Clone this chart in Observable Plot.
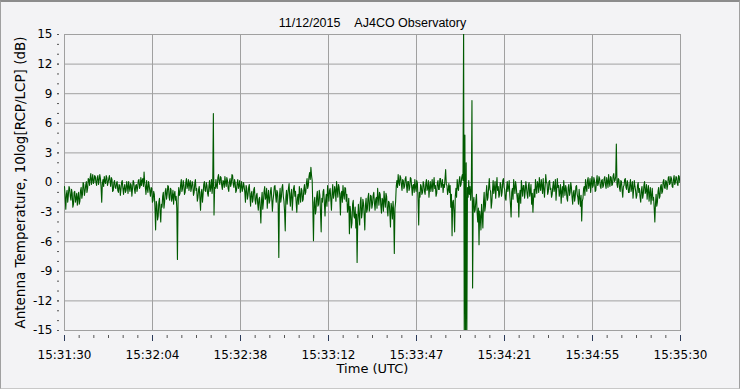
<!DOCTYPE html>
<html><head><meta charset="utf-8">
<script src="https://cdn.jsdelivr.net/npm/d3@7"></script>
<script src="https://cdn.jsdelivr.net/npm/@observablehq/plot@0.6"></script>
<style>
html,body{margin:0;padding:0;background:#f3f3f5;}
#wrap{position:relative;width:740px;height:389px;overflow:hidden;}
#wrap svg{position:absolute;left:0;top:0;}
#border{position:absolute;left:0;top:0;width:738px;height:386px;border-top:2px solid #8c8c8c;border-left:1px solid #a0a0a0;border-right:1px solid #a0a0a0;border-bottom:1px solid #c8c8c8;pointer-events:none;}
</style></head><body><div id="wrap"><div id="border"></div></div>
<script>
const titleText = "11/12/2015\u00a0\u00a0\u00a0\u00a0AJ4CO Observatory";
const yLabel = "Antenna Temperature, 10log[RCP/LCP] (dB)";
const xLabel = "Time (UTC)";
const tickLabels = ["15:31:30","15:32:04","15:32:38","15:33:12","15:33:47","15:34:21","15:34:55","15:35:30"];
const durationSeconds = 240;
const sampleStep = 0.25;
const yTicks = [-15,-12,-9,-6,-3,0,3,6,9,12,15];
const values = [
-0.4,-1.5,-2.7,-1.2,-0.8,-2.0,-1.3,-0.4,-0.6,-1.4,-1.8,-0.7,-1.1,-2.5,-2.2,-1.0,-0.9,-2.0,-1.6,-1.1,-2.3,-1.5,-1.0,-2.2,-1.9,-0.8,-0.5,-1.6,-1.2,0.0,-0.2,-1.3,-0.9,-0.3,0.1,-1.0,-0.6,0.4,0.3,-0.3,
0.5,0.9,-0.2,0.3,0.8,-0.1,0.1,0.7,0.6,0.0,-0.3,0.5,0.7,-0.2,0.2,0.8,0.4,-0.5,-2.0,-0.1,0.3,-0.4,0.6,0.1,-0.1,0.7,0.5,-0.3,0.0,0.4,0.7,0.1,-0.4,0.5,0.3,-0.9,-0.8,0.0,0.2,-0.5,
-0.6,-0.1,0.1,-0.8,-1.0,-0.2,-0.3,-1.3,-0.7,0.0,0.2,-0.6,-1.2,-0.5,-0.2,-1.0,-0.8,0.1,-0.4,-1.1,0.1,-0.5,-0.9,-0.1,-0.3,-1.4,-0.6,0.2,0.0,-0.7,-1.1,-0.3,-0.2,-0.9,-0.5,0.2,0.3,-0.6,-0.4,0.5,
-0.3,0.2,0.4,-0.4,1.05,0.0,-0.5,-1.2,0.2,-0.6,-1.0,0.1,-0.3,-0.9,-1.4,-0.5,-0.6,-2.0,-1.8,-0.9,-1.2,-2.6,-4.8,-1.9,-2.3,-3.8,-3.4,-2.0,-1.6,-3.0,-4.0,-2.2,-2.5,-1.4,-1.0,-2.6,-2.0,-0.9,-0.6,-1.7,
-1.2,-0.3,-0.4,-1.5,-1.8,-0.6,-0.7,-1.9,-1.5,-0.8,-2.2,-1.2,-0.9,-1.8,-1.4,-2.6,-7.8,-1.8,-0.5,-1.3,-1.1,-0.2,0.3,-0.9,-0.6,0.2,-0.2,-1.2,-1.0,0.0,0.4,-0.6,-0.3,0.3,-0.8,-0.1,0.2,-0.9,-0.5,0.1,
-0.2,-1.3,-1.0,-0.1,0.3,-0.8,-0.6,-1.9,-1.5,-0.7,-0.4,-1.6,-2.8,-1.0,-0.7,-2.0,-1.2,-0.2,0.1,-0.8,-0.9,0.0,-0.3,-1.1,-1.4,-0.4,0.2,-0.9,-0.5,0.3,-1.1,-0.3,7.0,-3.3,-0.5,-0.6,0.3,-0.4,-0.6,0.5,
0.8,0.1,-0.2,0.6,0.5,-0.3,-0.7,0.2,0.1,-0.5,0.6,0.0,-0.4,0.5,0.2,-0.6,-0.9,0.1,0.4,-0.4,-0.1,0.8,0.7,-0.2,-0.5,0.3,0.0,-1.0,-0.8,-0.1,0.3,-0.6,-0.3,0.2,-1.0,-0.4,0.1,-0.9,-0.6,0.0,
-0.4,-1.0,-2.0,-0.3,-0.6,-1.7,-1.3,-0.5,-0.2,-1.4,-2.4,-1.1,-0.9,-2.0,-1.6,-0.7,-0.5,-1.8,-2.2,-1.3,-1.1,-2.1,-2.8,-1.7,-1.5,-2.6,-4.1,-1.8,-1.0,-2.7,-2.0,-0.9,-0.4,-1.7,-1.5,-0.6,-2.6,-1.4,-0.8,-2.1,
-1.8,-0.9,-0.5,-1.6,-2.9,-1.8,-1.2,-0.4,-0.3,-1.3,-2.0,-0.8,-1.0,-2.3,-7.6,-1.4,-0.6,-2.0,-1.5,-0.5,-0.2,-1.4,-1.9,-3.0,-4.9,-1.5,-0.8,-2.2,-1.3,-0.6,-0.1,-1.5,-2.4,-1.1,-0.7,-2.8,-1.6,-0.6,-0.3,-1.4,
-0.9,-2.0,-3.0,-1.6,-1.2,-2.2,-0.4,-1.3,-2.0,-0.6,-0.8,-1.9,-1.7,-0.7,-0.2,-1.2,-1.0,-0.1,0.4,-0.6,-0.3,0.6,1.0,0.3,1.55,0.7,0.2,-2.5,-5.9,-2.0,-1.5,-3.2,-2.8,-1.4,-0.9,-2.4,-2.2,-0.8,-1.3,-3.1,
-5.0,-1.6,-2.0,-0.9,-0.7,-2.1,-3.4,-1.8,-1.2,-2.4,-0.3,-1.1,-1.9,-0.8,-0.6,-1.7,-2.8,-1.2,-0.2,-1.6,-1.3,-0.4,-0.8,-1.9,0.1,-0.7,-1.5,-0.2,-0.5,-1.4,-3.3,-1.1,-0.9,-2.0,-0.3,-1.2,-1.7,-0.5,-0.6,-1.9,
-1.2,-3.0,-2.5,-1.6,-5.2,-2.4,-3.0,-4.6,-4.1,-2.2,-1.8,-3.4,-3.6,-2.5,-4.6,-3.2,-8.1,-3.9,-2.2,-3.3,-4.3,-2.0,-1.5,-3.6,-3.0,-1.7,-2.1,-3.3,-4.8,-2.3,-1.6,-3.0,-2.7,-1.5,-1.1,-2.9,-2.4,-1.3,-1.4,-2.6,
-2.2,-1.3,-1.0,-2.1,-2.8,-1.7,-1.5,-2.6,-0.6,-1.5,-2.3,-1.0,-1.2,-2.4,-3.1,-1.6,-1.8,-2.9,-0.9,-1.8,-2.5,-1.1,-1.4,-2.7,-3.4,-1.9,-2.0,-3.0,-4.5,-2.1,-2.6,-3.7,-1.9,-3.0,-7.2,-2.6,-2.0,-0.4,0.2,-0.5,
0.8,0.0,-0.3,0.7,0.5,-0.2,-0.8,0.3,0.2,-0.6,-0.4,0.4,0.6,-0.3,-1.0,0.1,0.1,-0.8,-0.5,0.5,0.4,-0.4,-1.3,-0.3,-0.2,-1.0,0.3,-0.5,-0.9,0.2,-0.1,-1.8,-4.3,-1.0,-1.5,-0.2,-0.4,-1.2,-1.0,0.1,
-0.2,-0.9,-1.2,-0.1,0.3,-0.8,-0.6,0.2,-1.5,-0.5,0.1,-0.9,-0.4,0.3,-0.9,-0.2,0.5,-0.6,-0.3,-1.4,-1.1,-0.1,0.2,-0.7,-0.7,0.4,0.4,-0.5,-0.2,0.3,-1.0,-0.2,-0.5,0.4,1.3,-0.2,-0.3,-1.2,-0.8,-0.1,
-1.0,-0.3,-2.5,-1.2,-5.4,-2.0,-1.8,-3.0,-5.0,-1.4,-0.6,-1.5,0.3,-0.5,-0.8,0.2,0.6,-0.4,-0.2,0.5,0.8,0.2,16,-16,4.8,-16,2.0,-16,-0.5,-1.5,0.2,-1.2,-0.4,-1.8,-0.7,8.3,-10.7,-2.0,-1.5,-3.0,
-2.8,-1.9,-1.2,-3.0,-4.0,-2.6,-6.3,-2.9,-3.5,-4.8,-2.2,-3.3,-4.6,-2.0,-1.0,-2.9,-2.4,-1.2,-0.3,-1.8,-1.5,-0.5,0.4,-0.7,-0.9,-2.6,-2.0,-0.8,0.2,-1.1,-0.6,0.1,-1.6,-0.5,0.5,-0.8,-0.4,-1.5,-1.2,0.0,
-0.2,-1.4,-1.0,0.2,0.4,-0.5,-0.7,-1.6,-1.8,-0.6,0.1,-0.9,-0.5,0.2,-1.3,-2.2,-3.5,-1.0,-0.6,-1.7,0.3,-0.4,-1.1,0.1,-0.4,-1.3,-2.0,-1.1,-3.5,-1.5,-0.8,-2.1,0.2,-0.6,-1.4,-0.3,-0.3,-1.6,-0.9,0.1,
-0.5,-1.2,-1.6,-0.3,0.0,-1.4,-0.9,-0.2,-2.2,-1.1,-3.0,-1.6,-0.7,-1.5,0.3,-0.6,-1.1,0.1,-0.2,-1.0,0.5,-0.4,-0.8,0.3,-0.3,-1.1,0.4,-0.6,-1.5,-0.4,0.8,0.0,-0.1,-1.2,-0.9,0.1,0.2,-0.7,-0.6,-1.5,
-1.2,-0.4,0.1,-0.9,-0.5,0.3,-1.8,-0.7,0.4,-0.5,-0.3,-1.4,-1.0,-0.2,-2.1,-0.9,-0.4,-1.5,0.2,-0.6,-1.3,-0.3,-0.6,-1.6,-1.9,-0.5,-0.2,-1.3,-1.0,0.0,-0.5,-1.5,-2.2,-1.0,-0.8,-1.9,-1.4,-0.4,-0.3,-1.2,
-1.5,-2.2,-0.7,-1.6,-2.4,-1.3,-3.9,-1.9,-1.6,-0.6,-0.4,-1.3,0.3,-0.5,-0.9,0.2,0.5,-0.6,-0.2,0.4,-1.0,-0.1,0.6,-0.5,-0.3,0.5,0.2,-0.9,-0.8,0.1,0.7,-0.3,-0.1,0.6,0.4,-0.4,-0.6,0.2,0.3,-0.5,
-0.3,0.4,0.6,-0.2,-0.6,0.5,0.1,-0.5,0.8,0.0,-0.4,0.6,0.5,-0.3,-0.2,0.7,0.9,0.1,0.2,0.6,3.9,-0.2,-0.5,0.4,0.3,-0.6,-0.9,0.2,0.1,-0.8,-1.5,-0.4,-0.3,0.3,0.4,-0.5,-0.7,0.2,-0.1,-1.0,
-1.0,-0.2,0.3,-0.9,-0.5,0.1,-1.6,-0.7,0.2,-0.4,-0.8,-1.6,-1.3,-0.3,0.0,-1.0,-0.6,-1.5,-2.0,-0.8,-0.4,-1.6,-1.2,-0.3,0.1,-1.1,-0.9,-0.2,-1.7,-0.8,-0.3,-1.9,-1.1,-0.5,-2.2,-1.3,-0.6,-1.8,-1.5,-2.6,
-4.0,-2.1,-1.2,-2.4,-2.0,-0.9,-0.5,-1.6,-1.4,-0.4,-0.2,-1.1,-0.9,0.1,0.3,-0.5,-0.6,0.2,0.1,-0.7,-0.3,0.5,0.6,-0.2,-0.1,0.6,0.4,-0.4,-0.5,0.3,0.7,-0.2,0.0,0.6,0.5,-0.1,-0.3,0.7,0.6,0.0,
0.3
];

const data = values.map((v, i) => ({t: i * sampleStep, v}));
const majorStep = durationSeconds / (tickLabels.length - 1);
const majorX = tickLabels.map((_, i) => i * majorStep);
const minorX = d3.range(0, (tickLabels.length - 1) * 6 + 1).map(k => k * majorStep / 6);
const yMinor = d3.range(-15, 16);

const chart = Plot.plot({
  width: 740, height: 389,
  marginLeft: 64, marginRight: 60, marginTop: 34, marginBottom: 59,
  style: {fontFamily: "'DejaVu Sans', Verdana, sans-serif", fontSize: "12px", background: "transparent", color: "#000", overflow: "visible"},
  x: {domain: [0, durationSeconds]},
  y: {domain: [-15, 15]},
  marks: [
    Plot.gridX(majorX, {stroke: "#a0a0a0", strokeOpacity: 1}),
    Plot.gridY(yTicks, {stroke: "#a0a0a0", strokeOpacity: 1}),
    Plot.frame({stroke: "#a0a0a0"}),
    Plot.line(data, {x: "t", y: "v", stroke: "#005a00", strokeWidth: 1.1, clip: true}),
    Plot.axisX(minorX, {tickSize: 3, dy: 5, tickFormat: () => "", label: null, stroke: "#555"}),
    Plot.axisX(majorX, {tickSize: 6, dy: 5, tickPadding: 9, label: null, stroke: "#2a3a5a",
      tickFormat: d => tickLabels[Math.round(d / majorStep)]}),
    Plot.axisY(yMinor, {tickSize: 2, dx: -5, tickFormat: () => "", label: null, stroke: "#555"}),
    Plot.axisY(yTicks, {tickSize: 2, dx: -5, tickPadding: 5, label: null, stroke: "#555",
      tickFormat: d => String(d)}),
    Plot.text([titleText], {frameAnchor: "top", dy: -16, fontFamily: "'Liberation Sans', Arial, sans-serif", fontSize: 12.5}),
    Plot.text([yLabel], {frameAnchor: "left", textAnchor: "middle", rotate: -90, dx: -44, fontSize: 13.5, lineWidth: 100}),
    Plot.text([xLabel], {frameAnchor: "bottom", dy: 42, fontSize: 13})
  ]
});
document.getElementById("wrap").prepend(chart);
</script>
</body></html>
